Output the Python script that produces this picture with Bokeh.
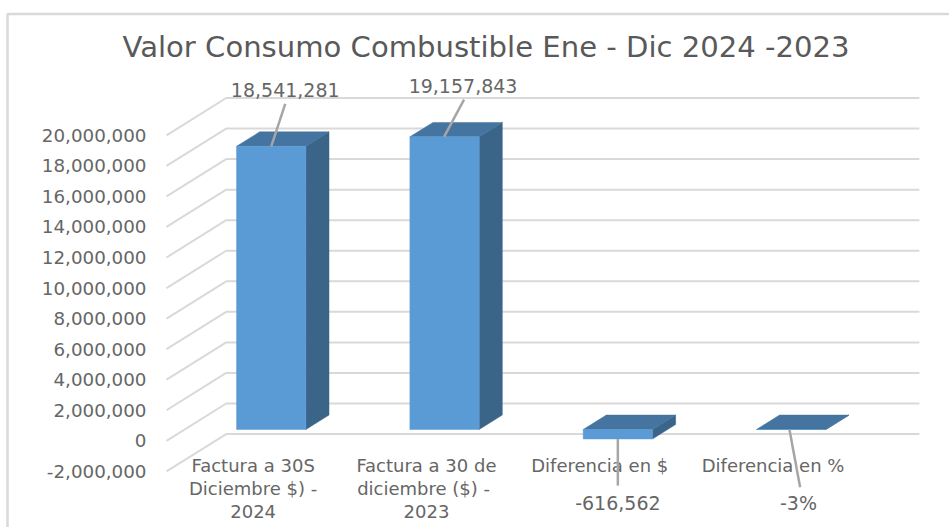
from bokeh.plotting import figure, ColumnDataSource
from bokeh.models import LinearAxis, Range1d, FixedTicker, NumeralTickFormatter, Title
from bokeh.core.properties import value
from bokeh.embed import file_html
from bokeh.resources import INLINE

# --- chart data ---
categories = ["Factura a 30S\nDiciembre $) -\n2024",
              "Factura a 30 de\ndiciembre  ($) -\n2023",
              "Diferencia en $",
              "Diferencia en %"]
values = [18541281, 19157843, -616562, -0.03]
value_labels = ["18,541,281", "19,157,843", "-616,562", "-3%"]
y_ticks = [-2000000, 0, 2000000, 4000000, 6000000, 8000000, 10000000,
           12000000, 14000000, 16000000, 18000000, 20000000]
title_text = "Valor Consumo Combustible  Ene - Dic 2024 -2023"

# --- page geometry (page pixels) ---
W, H = 949, 527
OX, OY = 0, 0
F_L, F_R, F_T, F_B = 160, 925, 60, 475
X0, CAT_W = 225.7, 173.3          # back wall start, category width
Y0, PX_PER_UNIT = 403.0, 30.55 / 2e6   # back wall y of zero, px per value
DEPTH_DX, DEPTH_DY = -59.7, 37.3  # floor depth vector in px
BAR_W = 0.4
D_BACK, D_FRONT = 0.31, 0.697
FONT = "DejaVu Sans"
TXT = "#595959"
AXIS_TXT = "#666666"
GRID = "#d9d9d9"

def xpx(px): return (px - X0) / CAT_W
def ypx(py): return (Y0 - py) / PX_PER_UNIT

def proj(i, v, d):
    """category position, value, depth -> data coordinates on the back-wall scale"""
    return (i + d * DEPTH_DX / CAT_W, v - d * DEPTH_DY / PX_PER_UNIT)

p = figure(width=W, height=H, output_backend="svg", toolbar_location=None,
           x_range=Range1d(xpx(F_L), xpx(F_R)), y_range=Range1d(ypx(F_B), ypx(F_T)),
           x_axis_location=None, y_axis_location=None,
           min_border_left=F_L - OX, min_border_right=OX + W - F_R,
           min_border_top=F_T - OY, min_border_bottom=OY + H - F_B,
           outline_line_color=None, background_fill_color="white",
           border_fill_color="white")
p.grid.visible = False

# axes on the front plane
p.extra_x_ranges["front"] = Range1d(xpx(F_L) - DEPTH_DX / CAT_W, xpx(F_R) - DEPTH_DX / CAT_W)
p.extra_y_ranges["front"] = Range1d(ypx(F_B) + DEPTH_DY / PX_PER_UNIT, ypx(F_T) + DEPTH_DY / PX_PER_UNIT)

yax = LinearAxis(y_range_name="front", ticker=FixedTicker(ticks=y_ticks),
                 formatter=NumeralTickFormatter(format="0,0"),
                 axis_line_color=None, major_tick_line_color=None, minor_tick_line_color=None,
                 major_label_text_color=AXIS_TXT, major_label_text_font=FONT,
                 major_label_text_font_size="18.3px", major_label_standoff=8)
p.add_layout(yax, "left")

cat_pos = [i + 0.5 for i in range(len(categories))]
xax = LinearAxis(x_range_name="front", ticker=FixedTicker(ticks=cat_pos),
                 major_label_overrides={c: t for c, t in zip(cat_pos, categories)},
                 axis_line_color=None, major_tick_line_color=None, minor_tick_line_color=None,
                 major_label_text_color=AXIS_TXT, major_label_text_font=FONT,
                 major_label_text_font_size="18px", major_label_text_line_height=1.1,
                 major_label_standoff=-27)
p.add_layout(xax, "below")

# title
p.add_layout(Title(text=title_text, align="left", offset=122 - F_L, standoff=-6,
                   text_font=FONT, text_font_size="29.1px", text_font_style="normal",
                   text_color=TXT), "above")

# gridlines: floor/side slant plus back wall
gx, gy = [], []
n = len(categories)
for v in y_ticks:
    a = proj(0, v, 1); b = proj(0, v, 0); c = proj(n, v, 0)
    gx.append([a[0], b[0], c[0]]); gy.append([a[1], b[1], c[1]])
p.multi_line(gx, gy, line_color=GRID, line_width=2)

# 3D bars
fx, fy, tx, ty, sx, sy = [], [], [], [], [], []
for i, val in enumerate(values):
    l = i + 0.5 - BAR_W / 2
    r = i + 0.5 + BAR_W / 2
    hi, lo = max(val, 0), min(val, 0)
    quad = [proj(l, hi, D_FRONT), proj(r, hi, D_FRONT), proj(r, lo, D_FRONT), proj(l, lo, D_FRONT)]
    fx.append([q[0] for q in quad]); fy.append([q[1] for q in quad])
    quad = [proj(l, hi, D_FRONT), proj(r, hi, D_FRONT), proj(r, hi, D_BACK), proj(l, hi, D_BACK)]
    tx.append([q[0] for q in quad]); ty.append([q[1] for q in quad])
    quad = [proj(r, hi, D_FRONT), proj(r, hi, D_BACK), proj(r, lo, D_BACK), proj(r, lo, D_FRONT)]
    sx.append([q[0] for q in quad]); sy.append([q[1] for q in quad])
p.patches(sx, sy, fill_color="#3a6488", line_color="#3a6488", line_width=0.5)
p.patches(tx, ty, fill_color="#44749f", line_color="#44749f", line_width=0.5)
p.patches(fx, fy, fill_color="#5b9bd5", line_color="#5b9bd5", line_width=0.5)

# leader lines and data labels (start at bar top/bottom, pixel offsets to the label)
lead_dx = [14, 20, 0, 10.7]
lead_dy = [-42.4, -37.3, 46.7, 57.7]
lab_dx = [14, 19, 0, 9]
lab_dy = [-56.7, -51.3, 63.7, 74]
start_dx = [0, -0.5, 0, -1.7]
lx, ly, tx2, ty2 = [], [], [], []
for i, val in enumerate(values):
    sx0, sy0 = proj(i + 0.5, min(val, 0) if val < -1 else max(val, 0), D_FRONT)
    sx0 += start_dx[i] / CAT_W
    lx.append([sx0, sx0 + lead_dx[i] / CAT_W])
    ly.append([sy0, sy0 - lead_dy[i] / PX_PER_UNIT])
    tx2.append(sx0 + lab_dx[i] / CAT_W)
    ty2.append(sy0 - lab_dy[i] / PX_PER_UNIT)
p.multi_line(lx, ly, line_color="#a6a6a6", line_width=2.5, level="overlay")
src = ColumnDataSource(dict(x=tx2, y=ty2, t=value_labels))
p.text("x", "y", text="t", source=src, text_align="center", text_baseline="middle",
       text_color=AXIS_TXT, text_font=value(FONT), text_font_size="19px", level="overlay")

# chart-area border
bx = [xpx(7), xpx(7), xpx(949)]
by = [ypx(527), ypx(13.5), ypx(13.5)]
p.line(bx, by, line_color=GRID, line_width=2.5, level="overlay")

open("out.html", "w").write(file_html(p, INLINE))
